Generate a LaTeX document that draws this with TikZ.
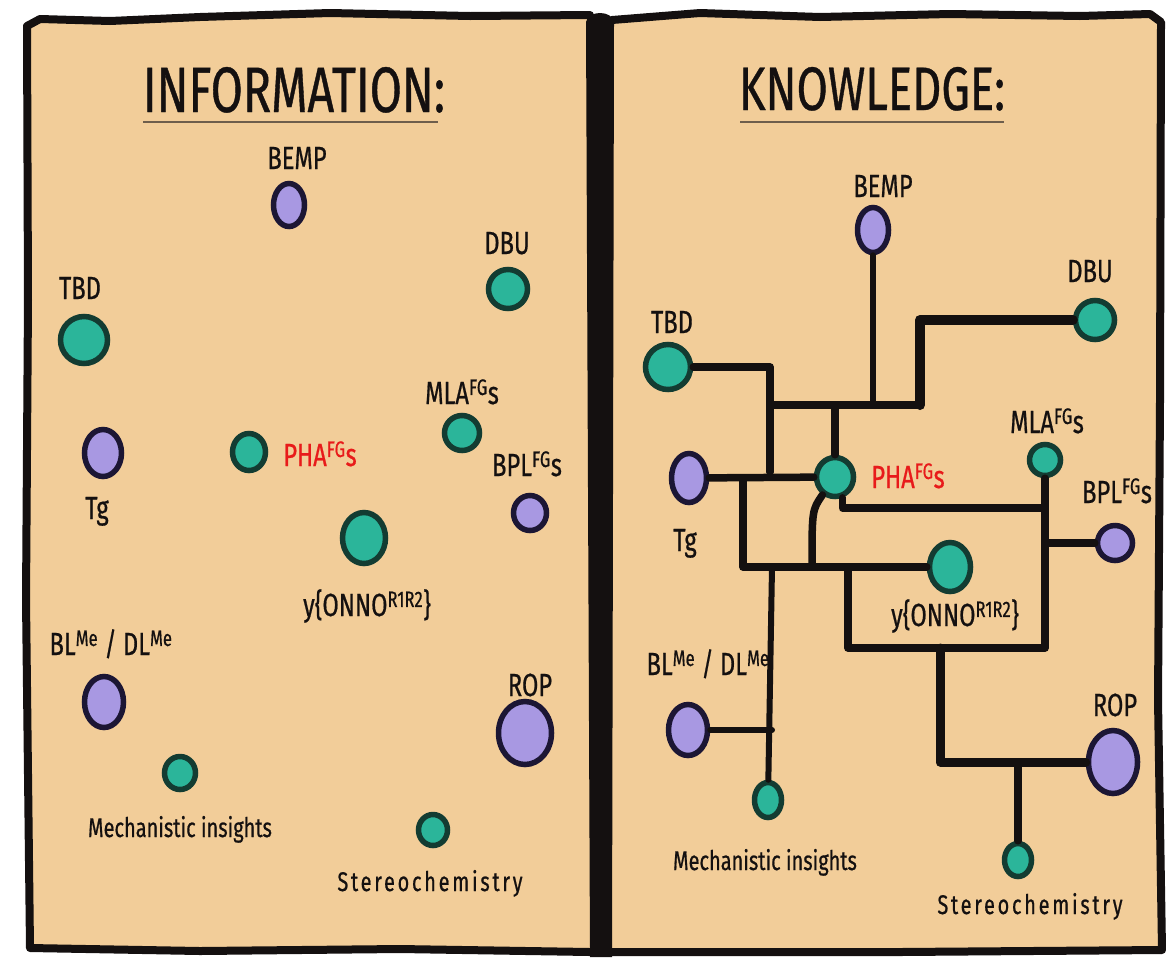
\documentclass[tikz,border=0pt]{standalone}
\usepackage{fontspec}
\newfontfamily\hand{Fira Sans}[FakeStretch=0.74, FakeBold=0.6]
\newfontfamily\handwide{Fira Sans}[FakeStretch=0.74, FakeBold=0.6, LetterSpace=10]
\usetikzlibrary{shapes.geometric}
\definecolor{paper}{HTML}{F2CD99}
\definecolor{ink}{HTML}{141010}
\definecolor{tealF}{HTML}{2BB59A}
\definecolor{tealD}{HTML}{133C32}
\definecolor{purpF}{HTML}{A898E2}
\definecolor{purpD}{HTML}{1C1634}
\definecolor{phared}{HTML}{E81A1A}
\definecolor{uline}{HTML}{6E5E4C}
\tikzset{
  blob/.style={ellipse, line width=5.5pt, inner sep=0pt},
  tealb/.style={blob, fill=tealF, draw=tealD},
  purpb/.style={blob, fill=purpF, draw=purpD},
  lbl/.style={anchor=base, inner sep=0pt, text=ink, font=\hand\fontsize{32}{34}\selectfont},
  redlbl/.style={lbl, text=phared},
  smalllbl/.style={lbl, font=\hand\fontsize{27}{29}\selectfont},
  widelbl/.style={lbl, font=\handwide\fontsize{27}{29}\selectfont},
  conn/.style={line width=7.5pt, line join=round, line cap=round, draw=ink},
  rim/.style={draw=ink, line width=8pt, line join=round, line cap=round}
}
\begin{document}
\begin{tikzpicture}[x=1pt,y=-1pt]
\useasboundingbox (0,0) rectangle (1166,962);
% ---------- panels ----------
\fill[paper] (590,15) -- (470,16) -- (330,13) -- (200,17) -- (110,21) -- (40,19) -- (27,26) -- (28,300) -- (26,600) -- (30,948) -- (200,951) -- (400,949) -- (590,952) -- cycle;
\draw[rim] (590,15) -- (470,16) -- (330,13) -- (200,17) -- (110,21) -- (40,19) -- (27,26) -- (28,300) -- (26,600) -- (30,948) -- (200,951) -- (400,949) -- (590,952);
\fill[paper] (612,20) -- (700,13) -- (820,17) -- (950,14) -- (1080,16) -- (1150,14) -- (1161,22) -- (1160,400) -- (1158,700) -- (1162,950) -- (900,952) -- (612,952) -- cycle;
\draw[rim] (612,20) -- (700,13) -- (820,17) -- (950,14) -- (1080,16) -- (1150,14) -- (1161,22) -- (1160,400) -- (1158,700) -- (1162,950) -- (900,952) -- (612,952);
\fill[ink] (586,22) .. controls (588,10) and (612,10) .. (614,22) -- (612,957) -- (590,957) -- cycle;
% ---------- titles ----------
\node[anchor=base, inner sep=0pt, text=ink] (t1) at (294,112) {\resizebox{302pt}{45pt}{\hand INFORMATION:}};
\draw[uline, line width=1.5pt] (143,122) -- (438,122);
\node[anchor=base, inner sep=0pt, text=ink] (t2) at (872,110) {\resizebox{266pt}{43pt}{\hand KNOWLEDGE:}};
\draw[uline, line width=1.5pt] (740,122) -- (1004,122);
% ---------- left panel nodes ----------
\node[purpb, minimum width=31pt, minimum height=43pt] (lBEMP) at (289,205) {};
\node[tealb, minimum width=39pt, minimum height=39pt] (lDBU) at (508,289) {};
\node[tealb, minimum width=47pt, minimum height=47pt] (lTBD) at (84,340) {};
\node[tealb, minimum width=35pt, minimum height=35pt] (lMLA) at (462,433) {};
\node[purpb, minimum width=37pt, minimum height=47pt] (lTg) at (103,453) {};
\node[tealb, minimum width=33pt, minimum height=37pt] (lPHA) at (249,452) {};
\node[purpb, minimum width=33pt, minimum height=35pt] (lBPL) at (530,513) {};
\node[tealb, minimum width=43pt, minimum height=51pt] (lY) at (364,538) {};
\node[purpb, minimum width=39pt, minimum height=51pt] (lBL) at (104,702) {};
\node[purpb, minimum width=53pt, minimum height=63pt] (lROP) at (525,733) {};
\node[tealb, minimum width=31pt, minimum height=33pt] (lMech) at (180,773) {};
\node[tealb, minimum width=29pt, minimum height=31pt] (lSt) at (433,830) {};
% left labels
\node[lbl] (lBEMPt) at (297,169) {BEMP};
\node[lbl] (lDBUt) at (507,254) {DBU};
\node[lbl] (lTBDt) at (80,299) {TBD};
\node[lbl] (lMLAt) at (462,404) {MLA\textsuperscript{FG}s};
\node[lbl] (lTgt) at (97,519) {Tg};
\node[redlbl] (lPHAt) at (320,466) {PHA\textsuperscript{FG}s};
\node[lbl] (lBPLt) at (527,476) {BPL\textsuperscript{FG}s};
\node[lbl] (lYt) at (367,616) {y\{ONNO\textsuperscript{R1R2}\}};
\node[lbl] (lBLt) at (111,655) {BL\textsuperscript{Me} / DL\textsuperscript{Me}};
\node[lbl] (lROPt) at (530,696) {ROP};
\node[smalllbl] (lMecht) at (180,837) {Mechanistic insights};
\node[widelbl] (lStt) at (430,891) {Stereochemistry};
% ---------- right panel nodes ----------
\node[purpb, minimum width=31pt, minimum height=45pt] (rBEMP) at (873,230) {};
\node[tealb, minimum width=39pt, minimum height=39pt] (rDBU) at (1095,320) {};
\node[tealb, minimum width=45pt, minimum height=45pt] (rTBD) at (668,367) {};
\node[tealb, minimum width=31pt, minimum height=31pt] (rMLA) at (1045,460) {};
\node[tealb, minimum width=37pt, minimum height=39pt] (rPHA) at (835,477) {};
\node[purpb, minimum width=35pt, minimum height=49pt] (rTg) at (689,478) {};
\node[purpb, minimum width=35pt, minimum height=35pt] (rBPL) at (1115,543) {};
\node[tealb, minimum width=41pt, minimum height=49pt] (rY) at (950,567) {};
\node[purpb, minimum width=39pt, minimum height=51pt] (rBL) at (688,730) {};
\node[purpb, minimum width=49pt, minimum height=63pt] (rROP) at (1113,762) {};
\node[tealb, minimum width=27pt, minimum height=35pt] (rMech) at (768,800) {};
\node[tealb, minimum width=27pt, minimum height=33pt] (rSt) at (1018,860) {};
% right labels
\node[lbl] (rBEMPt) at (883,197) {BEMP};
\node[lbl] (rDBUt) at (1090,282) {DBU};
\node[lbl] (rTBDt) at (672,333) {TBD};
\node[lbl] (rMLAt) at (1047,433) {MLA\textsuperscript{FG}s};
\node[lbl] (rTgt) at (685,551) {Tg};
\node[redlbl] (rPHAt) at (908,488) {PHA\textsuperscript{FG}s};
\node[lbl] (rBPLt) at (1117,503) {BPL\textsuperscript{FG}s};
\node[lbl] (rYt) at (955,626) {y\{ONNO\textsuperscript{R1R2}\}};
\node[lbl] (rBLt) at (708,675) {BL\textsuperscript{Me} / DL\textsuperscript{Me}};
\node[lbl] (rROPt) at (1115,716) {ROP};
\node[smalllbl] (rMecht) at (765,870) {Mechanistic insights};
\node[widelbl] (rStt) at (1030,914) {Stereochemistry};
% ---------- right panel connectors ----------
\coordinate (jA) at (770,405);
\coordinate (jB) at (920,405);
\coordinate (jC) at (770,472);
\coordinate (jD) at (743,567);
\coordinate (jE) at (848,648);
\coordinate (jF) at (940,648);
\coordinate (jG) at (772,567);
\coordinate (jH) at (812,567);
\coordinate (jK) at (1045,508);
\draw[conn] (rTBD) -| (jC);
\draw[conn] (jA) -- (jB);
\draw[conn, line width=10pt] (jB) |- (rDBU);
\draw[conn, line width=6pt] (rBEMP) -- (rBEMP |- jA);
\draw[conn] (rPHA) -- (rPHA |- jA);
\draw[conn] (rTg) -- (rPHA);
\draw[conn] (rTg -| jD) -- (jD) -- (rY);
\draw[conn] (rPHA.235) .. controls (812,510) .. (jH);
\draw[conn] (rPHA.290) |- (jK);
\draw[conn] (rMLA) -- (rMLA |- jE) -- (jE) -- (jE |- jD);
\draw[conn] (rBPL) -- (rBPL -| rMLA);
\draw[conn, line width=9pt] (jF) |- (rROP);
\draw[conn] (rSt) -- (rSt |- rROP);
\draw[conn, line width=6pt] (jG) -- (rMech);
\draw[conn, line width=6pt] (rBL) -- (rBL -| jG);
\end{tikzpicture}
\end{document}
